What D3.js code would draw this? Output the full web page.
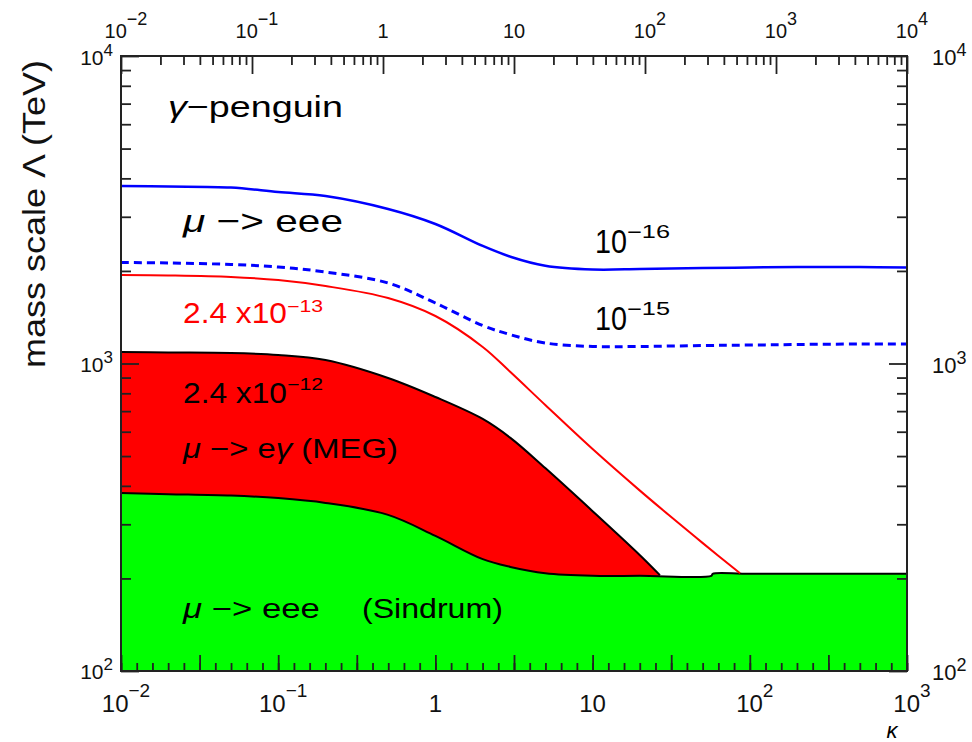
<!DOCTYPE html>
<html><head><meta charset="utf-8">
<script src="https://cdn.jsdelivr.net/npm/d3@7"></script>
<style>body{margin:0;background:#fff} text{font-family:"Liberation Sans",Arial,sans-serif}</style>
</head><body>
<svg id="chart" width="972" height="742"></svg>
<script>
// ---------- data (kappa, mass scale Lambda in TeV) ----------
const kappaGrid = [0.01,0.02,0.05,0.1,0.2,0.5,1,2,3,5,10,20,50,100,200,500,1000];
const eee1e16   = [3777,3763,3736,3612,3505,3181,2843,2411,2225,2080,2022,2029,2045,2052,2060,2060,2052];
const eee1e15   = [2131,2123,2099,2060,1984,1827,1573,1329,1241,1166,1136,1136,1144,1148,1153,1157,1157];
const megLineKappa = [0.01,0.02,0.05,0.1,0.2,0.5,1,2,3,5,10,20,30,50,86.7];
const meg2p4e13    = [1940,1933,1911,1868,1786,1633,1427,1132,938,733,527,386,324,261,208];
const megFillKappa = [0.01,0.02,0.05,0.1,0.2,0.5,1,2,3,5,10,20,26.8];
const meg2p4e12    = [1090,1086,1082,1066,1026,897,778,660,573,457,331,238,205];
const sindrumKappa = [0.01,0.02,0.05,0.1,0.2,0.5,1,2,3,5,10,20,57,58,100,1000];
const sindrumLimit = [379,376,372,365,352,322,275,231,218,208,204,204,204,207,207,207];

const bottomTickValues = [0.01,0.1,1,10,100,1000];
const bottomTickLabels = [["10","\u22122"],["10","\u22121"],["1",""],["10",""],["10","2"],["10","3"]];
const topTickValues = [0.01,0.1,1,10,100,1000,10000];
const topTickLabels = [["10","\u22122"],["10","\u22121"],["1",""],["10",""],["10","2"],["10","3"],["10","4"]];
const yTickValues = [100,1000,10000];
const yTickLabels = [["10","2"],["10","3"],["10","4"]];

// ---------- layout ----------
const L = 121, R = 907, T = 56, B = 671;
const svg = d3.select("#chart");
const xB = d3.scaleLog().domain([0.01,1000]).range([L,R]);
const xBLin = d3.scaleLinear().domain([-2,3]).range([L,R]);
const xT = d3.scaleLog().domain([0.01,10000]).range([L,R]);
const y = d3.scaleLog().domain([100,10000]).range([B,T]);

svg.append("defs").append("clipPath").attr("id","clip")
  .append("rect").attr("x",L).attr("y",T).attr("width",R-L).attr("height",B-T);
const plot = svg.append("g").attr("clip-path","url(#clip)");

const zip = (ks, vs) => ks.map((k,i)=>({k, v: vs[i]}));
const crv = d3.curveCatmullRom.alpha(0.5);
const area = d3.area().x(d=>xB(d.k)).y0(B).y1(d=>y(d.v)).curve(crv);
const line = d3.line().x(d=>xB(d.k)).y(d=>y(d.v)).curve(crv);

const megFill = zip(megFillKappa, meg2p4e12);
const sinFill = zip(sindrumKappa, sindrumLimit);
plot.append("path").datum(megFill).attr("d",area).attr("fill","#ff0000");
plot.append("path").datum(sinFill).attr("d",area).attr("fill","#00ff00");
plot.append("path").datum(megFill).attr("d",line).attr("fill","none").attr("stroke","#000").attr("stroke-width",2);
plot.append("path").datum(sinFill).attr("d",line).attr("fill","none").attr("stroke","#000").attr("stroke-width",2);
plot.append("path").datum(zip(megLineKappa, meg2p4e13)).attr("d",line).attr("fill","none").attr("stroke","#ff0000").attr("stroke-width",2);
plot.append("path").datum(zip(kappaGrid, eee1e16)).attr("d",line).attr("fill","none").attr("stroke","#0000ff").attr("stroke-width",2.5);
plot.append("path").datum(zip(kappaGrid, eee1e15)).attr("d",line).attr("fill","none").attr("stroke","#0000ff").attr("stroke-width",3).attr("stroke-dasharray","8,5");

// ---------- axes ----------
const tickCol = "#222";
function styleAxis(g){ g.select(".domain").remove(); g.selectAll("line").attr("stroke",tickCol).attr("stroke-width",1.8); g.selectAll("text").remove(); }
const minorB = d3.range(-20,31).map(i=>i/10);
const majorB = d3.range(-4,7).map(i=>i/2);
svg.append("g").attr("transform",`translate(0,${B})`).call(d3.axisTop(xBLin).tickValues(minorB).tickSize(8)).call(styleAxis);
svg.append("g").attr("transform",`translate(0,${B})`).call(d3.axisTop(xBLin).tickValues(majorB).tickSize(16)).call(styleAxis);

const logMinor = (d0,d1)=>{const a=[];for(let d=d0;d<d1;d++)for(let m=2;m<=9;m++)a.push(m*Math.pow(10,d));return a;};
svg.append("g").attr("transform",`translate(0,${T})`).call(d3.axisBottom(xT).tickValues(logMinor(-2,4)).tickSize(9)).call(styleAxis);
svg.append("g").attr("transform",`translate(0,${T})`).call(d3.axisBottom(xT).tickValues(topTickValues).tickSize(18)).call(styleAxis);
svg.append("g").attr("transform",`translate(${L},0)`).call(d3.axisRight(y).tickValues(logMinor(2,4)).tickSize(10)).call(styleAxis);
svg.append("g").attr("transform",`translate(${L},0)`).call(d3.axisRight(y).tickValues(yTickValues).tickSize(18)).call(styleAxis);
svg.append("g").attr("transform",`translate(${R},0)`).call(d3.axisLeft(y).tickValues(logMinor(2,4)).tickSize(10)).call(styleAxis);
svg.append("g").attr("transform",`translate(${R},0)`).call(d3.axisLeft(y).tickValues(yTickValues).tickSize(18)).call(styleAxis);

svg.append("rect").attr("x",L).attr("y",T).attr("width",R-L).attr("height",B-T)
  .attr("fill","none").attr("stroke",tickCol).attr("stroke-width",2);

// ---------- tick labels ----------
function expLabel(x, yy, lab, size, supSize, supDy, anchor){
  const t = svg.append("text").attr("x",x).attr("y",yy).attr("text-anchor",anchor).attr("fill","#111");
  t.append("tspan").style("font-size",size+"px").text(lab[0]);
  if (lab[1]) t.append("tspan").style("font-size",supSize+"px").attr("dy",supDy).text(lab[1]);
}
bottomTickValues.forEach((v,i)=>expLabel(xB(v)+(bottomTickLabels[i][1]?5:0), 712, bottomTickLabels[i], 24, 19, -15, "middle"));
topTickValues.forEach((v,i)=>expLabel(xT(v)+(topTickLabels[i][1]?5:0), 38, topTickLabels[i], 20, 18, -13, "middle"));
yTickValues.forEach((v,i)=>expLabel(113, y(v)+8 + (v===10000?1:0), yTickLabels[i], 21, 17, -9, "end"));
yTickValues.forEach((v,i)=>expLabel(932, y(v)+9, yTickLabels[i], 22, 18, -9, "start"));

svg.append("text").attr("x",892).attr("y",738).attr("text-anchor","middle").style("font-size","22px").style("font-style","italic").text("\u03ba");

// ---------- fitted text helper ----------
function fitText(parent, segs, x, yy, w, size, fill){
  const t = parent.append("text").attr("x",0).attr("y",0).style("font-size",size+"px").attr("fill",fill);
  segs.forEach(s=>{ const ts=t.append("tspan").text(s[0]); if(s[1]) ts.style("font-style","italic"); });
  const len = t.node().getComputedTextLength();
  t.attr("transform",`translate(${x},${yy}) scale(${w/len},1)`);
  return t;
}
function fitRot(parent, str, x, yy, w, size){
  const t = parent.append("text").attr("x",0).attr("y",0).style("font-size",size+"px").attr("text-anchor","middle").attr("fill","#111").text(str);
  const len = t.node().getComputedTextLength();
  t.attr("transform",`translate(${x},${yy}) rotate(-90) scale(${w/len},1)`);
}
fitRot(svg, "mass scale \u039b (TeV)", 45, 214, 308, 31);

// ---------- annotations ----------
const ann = svg.append("g");
fitText(ann, [["\u03b3",1],["\u2212penguin"]], 168, 117, 175, 30, "#000");
fitText(ann, [["\u03bc",1],[" \u2212> eee"]], 183, 232, 160, 32, "#000");
fitText(ann, [["10"]], 595, 253, 32, 34, "#000");
fitText(ann, [["\u221216"]], 627, 238, 43, 18, "#000");
fitText(ann, [["10"]], 595, 330, 32, 34, "#000");
fitText(ann, [["\u221215"]], 627, 315, 43, 18, "#000");
fitText(ann, [["2.4 x10"]], 183, 323, 104, 29, "#ff0000");
fitText(ann, [["\u221213"]], 287, 312, 36, 16, "#ff0000");
fitText(ann, [["2.4 x10"]], 183, 403, 104, 29, "#000");
fitText(ann, [["\u221212"]], 287, 390, 36, 16, "#000");
fitText(ann, [["\u03bc",1],[" \u2212> e"],["\u03b3",1],[" (MEG)"]], 183, 458, 215, 28, "#000");
fitText(ann, [["\u03bc",1],[" \u2212> eee"]], 183, 618, 137, 28, "#000");
fitText(ann, [["(Sindrum)"]], 362, 618, 141, 28, "#000");
</script>
</body></html>
